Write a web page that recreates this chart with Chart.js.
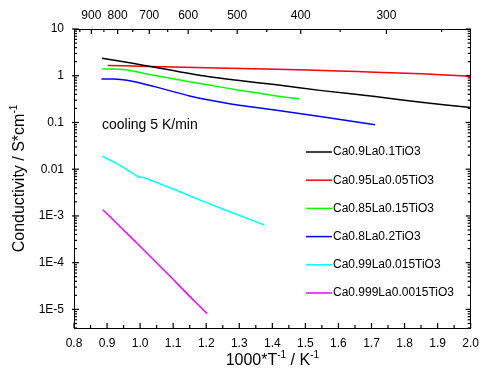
<!DOCTYPE html>
<html>
<head>
<meta charset="utf-8">
<title>Conductivity</title>
<script src="https://cdn.jsdelivr.net/npm/chart.js@4.4.1/dist/chart.umd.min.js"></script>
<style>
  html, body { margin: 0; padding: 0; background: #fff; }
  #wrap { width: 487px; height: 376px; position: relative; }
</style>
</head>
<body>
<div id="wrap"><canvas id="condChart"></canvas></div>
<script>
  // series names (legend order)
  const seriesNames = ['Ca0.9La0.1TiO3', 'Ca0.95La0.05TiO3', 'Ca0.85La0.15TiO3',
                       'Ca0.8La0.2TiO3', 'Ca0.99La0.015TiO3', 'Ca0.999La0.0015TiO3'];

  // values: x = 1000/T, y = conductivity
  const xLa10 = [0.885, 0.95, 1.005, 1.1, 1.195, 1.3, 1.413, 1.55, 1.711, 1.85, 2.0];
  const yLa10 = [2.37, 2.0, 1.70, 1.29, 0.99, 0.79, 0.64, 0.48, 0.36, 0.27, 0.21];

  const xLa05 = [0.902, 1.0, 1.2, 1.413, 1.6, 1.711, 1.85, 2.0];
  const yLa05 = [1.66, 1.60, 1.49, 1.38, 1.26, 1.19, 1.10, 0.97];

  const xLa15 = [0.885, 0.92, 0.957, 1.0, 1.05, 1.1, 1.2, 1.3, 1.413, 1.482];
  const yLa15 = [1.40, 1.39, 1.34, 1.17, 1.00, 0.86, 0.65, 0.49, 0.37, 0.32];

  const xLa20 = [0.883, 0.92, 0.96, 1.0, 1.05, 1.1, 1.15, 1.2, 1.25, 1.3, 1.413, 1.55, 1.711];
  const yLa20 = [0.855, 0.85, 0.80, 0.70, 0.57, 0.457, 0.37, 0.31, 0.266, 0.234, 0.182, 0.132, 0.089];

  const xLa015 = [0.885, 0.89, 0.937, 0.997, 1.011, 1.106, 1.205, 1.304, 1.376];
  const yLa015 = [0.0187, 0.0182, 0.0124, 0.0068, 0.00665, 0.00363, 0.00188, 0.00101, 0.00064];

  const xLa0015 = [0.887, 0.91, 0.95, 1.0, 1.05, 1.1, 1.15, 1.203];
  const yLa0015 = [1.36e-3, 9.5e-4, 5.0e-4, 2.24e-4, 1.0e-4, 4.4e-5, 1.9e-5, 8.1e-6];

  // axis ticks
  const xTicks = [0.8, 0.9, 1.0, 1.1, 1.2, 1.3, 1.4, 1.5, 1.6, 1.7, 1.8, 1.9, 2.0];
  const yTicks = [10, 1, 0.1, 0.01, 1e-3, 1e-4, 1e-5];
  const yTickLabels = ['10', '1', '0.1', '0.01', '1E-3', '1E-4', '1E-5'];
  const tempTicks = [900, 800, 700, 600, 500, 400, 300];   // deg C, top axis
  const tempMinor = [950, 850, 750, 650, 550, 450, 350, 250];

  const seriesX = [xLa10, xLa05, xLa15, xLa20, xLa015, xLa0015];
  const seriesY = [yLa10, yLa05, yLa15, yLa20, yLa015, yLa0015];
  const colors = ['#000000', '#ff0000', '#00ff00', '#0000ff', '#00ffff', '#ff00ff'];

  const FONT = "'Liberation Sans', Arial, Helvetica, sans-serif";
  const invT = t => 1000 / (t + 273);

  const datasets = seriesNames.map((name, i) => ({
    label: name,
    data: seriesX[i].map((x, j) => ({ x: x, y: seriesY[i][j] })),
    borderColor: colors[i],
    backgroundColor: colors[i],
    borderWidth: 1.5,
    showLine: true,
    pointRadius: 0,
    tension: 0.2
  }));

  // inward ticks, legend, note, axis titles with superscripts
  const decorPlugin = {
    id: 'decor',
    afterDraw(chart) {
      const ctx = chart.ctx;
      const a = chart.chartArea;
      const sx = chart.scales.x, sy = chart.scales.y;
      const L = a.left, R = a.right, T = a.top, B = a.bottom;
      const seg = (x1, y1, x2, y2) => {
        ctx.beginPath(); ctx.moveTo(x1, y1); ctx.lineTo(x2, y2); ctx.stroke();
      };
      ctx.save();
      ctx.strokeStyle = '#000';
      ctx.lineWidth = 1.2;

      // bottom axis
      xTicks.forEach((v, i) => {
        const px = sx.getPixelForValue(v);
        seg(px, B, px, B - 5);
        if (i < xTicks.length - 1) {
          const mx = sx.getPixelForValue(v + 0.05);
          seg(mx, B, mx, B - 3);
        }
      });
      // top axis (temperature)
      tempTicks.forEach(t => {
        const px = sx.getPixelForValue(invT(t));
        seg(px, T, px, T + 5);
      });
      tempMinor.forEach(t => {
        const px = sx.getPixelForValue(invT(t));
        seg(px, T, px, T + 3);
      });
      // left and right log ticks
      yTicks.forEach(v => {
        const py = sy.getPixelForValue(v);
        seg(L - 2, py, L + 5, py);
        seg(R - 5, py, R, py);
      });
      for (let e = -6; e <= 0; e++) {
        for (let k = 2; k <= 9; k++) {
          const v = k * Math.pow(10, e);
          if (v < 4e-6 || v > 10) continue;
          const py = sy.getPixelForValue(v);
          seg(L, py, L + 3, py);
          seg(R - 3, py, R, py);
        }
      }

      // note
      ctx.fillStyle = '#000';
      ctx.font = '14px ' + FONT;
      ctx.textBaseline = 'middle';
      ctx.textAlign = 'left';
      ctx.fillText('cooling 5 K/min', L + 28, T + 96);

      // legend
      ctx.font = '12px ' + FONT;
      chart.data.datasets.forEach((ds, i) => {
        const y = T + 123 + i * 28.2;
        ctx.strokeStyle = ds.borderColor;
        ctx.lineWidth = 1.5;
        seg(L + 232, y, L + 258, y);
        ctx.fillText(ds.label, L + 259, y);
      });

      // axis titles
      const drawSup = (parts, cx, cy) => {
        let w = 0;
        parts.forEach(p => {
          ctx.font = (p.sup ? '10px ' : '16px ') + FONT;
          w += ctx.measureText(p.t).width;
        });
        let x = cx - w / 2;
        parts.forEach(p => {
          ctx.font = (p.sup ? '10px ' : '16px ') + FONT;
          ctx.fillText(p.t, x, p.sup ? cy - 6 : cy);
          x += ctx.measureText(p.t).width;
        });
      };
      drawSup([{ t: '1000*T' }, { t: '-1', sup: true }, { t: ' / K' }, { t: '-1', sup: true }],
              (L + R) / 2, 361);
      ctx.save();
      ctx.translate(20, (T + B) / 2);
      ctx.rotate(-Math.PI / 2);
      drawSup([{ t: 'Conductivity / S*cm' }, { t: '-1', sup: true }], 0, 0);
      ctx.restore();
      ctx.restore();
    }
  };

  const tickFont = { family: FONT, size: 12 };
  const frameBorder = { display: true, color: '#000', width: 1 };

  new Chart(document.getElementById('condChart'), {
    type: 'scatter',
    data: { datasets: datasets },
    options: {
      responsive: true,
      maintainAspectRatio: false,
      animation: false,
      layout: { padding: { left: 0, right: 10, top: 0, bottom: 0 } },
      plugins: { legend: { display: false }, tooltip: { enabled: false } },
      scales: {
        x: {
          type: 'linear',
          position: 'bottom',
          min: 0.8,
          max: 2.0,
          afterBuildTicks: s => { s.ticks = xTicks.map(v => ({ value: v })); },
          afterFit: s => { s.height = 48; },
          ticks: { color: '#000', font: tickFont, padding: 8, maxRotation: 0,
                   callback: v => v.toFixed(1) },
          grid: { display: false, drawTicks: false },
          border: frameBorder
        },
        x2: {
          type: 'linear',
          position: 'top',
          min: 0.8,
          max: 2.0,
          afterBuildTicks: s => { s.ticks = tempTicks.map(t => ({ value: invT(t) })); },
          afterFit: s => { s.height = 29; },
          ticks: { color: '#000', font: tickFont, padding: 6, maxRotation: 0,
                   callback: (v, i) => String(tempTicks[i]) },
          grid: { display: false, drawTicks: false },
          border: frameBorder
        },
        y: {
          type: 'logarithmic',
          min: 4e-6,
          max: 10,
          afterBuildTicks: s => { s.ticks = yTicks.map(v => ({ value: v })); },
          afterFit: s => { s.width = 74; },
          ticks: { color: '#000', font: tickFont, padding: 10,
                   callback: (v, i) => yTickLabels[i] },
          grid: { display: false, drawTicks: false },
          border: frameBorder
        },
        y2: {
          type: 'logarithmic',
          position: 'right',
          min: 4e-6,
          max: 10,
          afterFit: s => { s.width = 0; },
          ticks: { display: false },
          grid: { display: false, drawTicks: false },
          border: frameBorder
        }
      }
    },
    plugins: [decorPlugin]
  });
</script>
</body>
</html>
